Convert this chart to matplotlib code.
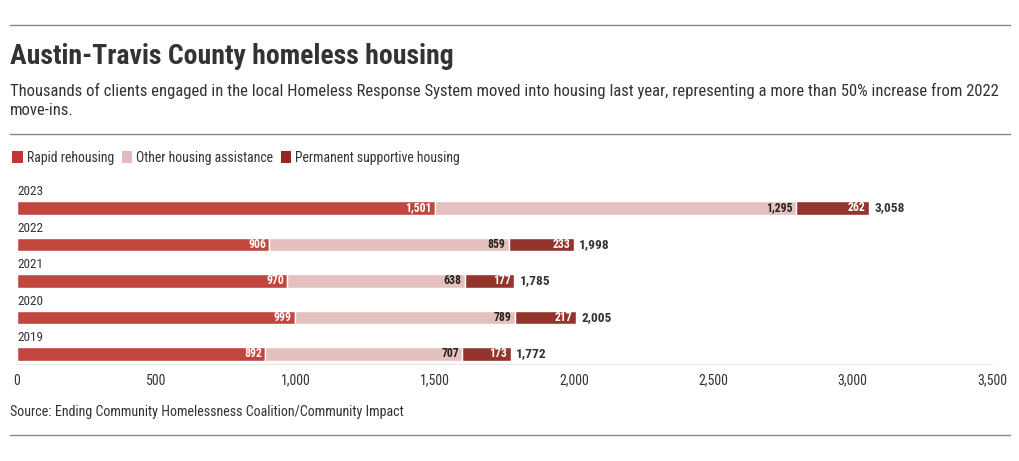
import matplotlib.pyplot as plt
from matplotlib.lines import Line2D
from matplotlib.patches import Patch

plt.rcParams['font.family'] = ['Roboto Condensed', 'Roboto', 'DejaVu Sans']

years = ['2019', '2020', '2021', '2022', '2023']
rapid = [892, 999, 970, 906, 1501]
other = [707, 789, 638, 859, 1295]
permanent = [173, 217, 177, 233, 262]
totals = [1772, 2005, 1785, 1998, 3058]
series_names = ['Rapid rehousing', 'Other housing assistance', 'Permanent supportive housing']
colors = ['#c1463e', '#e4c0be', '#94352d']
legend_colors = ['#c33634', '#e2bcbb', '#8f2b24']
label_colors = ['white', '#222222', 'white']
xticks = [0, 500, 1000, 1500, 2000, 2500, 3000, 3500]

W, H = 1020, 461
fig = plt.figure(figsize=(W / 100, H / 100), dpi=100)
ax = fig.add_axes([17 / W, (H - 364) / H, 975 / W, 179 / H])

pos = list(range(len(years)))
bar_h = 0.38
left = [0] * len(years)
for vals, col, lc in zip([rapid, other, permanent], colors, label_colors):
    ax.barh(pos, vals, left=left, height=bar_h, color=col, edgecolor='white', linewidth=1)
    for p, l, v in zip(pos, left, vals):
        ax.text(l + v - 12, p, f'{v:,}', ha='right', va='center', color=lc,
                fontsize=8.5, fontweight='bold')
    left = [a + b for a, b in zip(left, vals)]

for p, t in zip(pos, totals):
    ax.text(t + 20, p, f'{t:,}', ha='left', va='center', color='#333333',
            fontsize=9.6, fontweight='bold')
    ax.text(0, p + bar_h / 2 + 0.08, years[p], ha='left', va='bottom', color='#333333', fontsize=9.5)

ax.set_xlim(0, 3500)
ax.set_ylim(-0.274, 4.63)
ax.set_xticks(xticks)
ax.set_xticklabels([f'{x:,}' for x in xticks])
ax.set_yticks([])
for s in ['top', 'right', 'left']:
    ax.spines[s].set_visible(False)
ax.spines['bottom'].set_color('#e6e6e6')
ax.tick_params(axis='x', length=0, labelsize=10, colors='#333333', pad=7)

# header and footer
for y in [25, 134, 435]:
    fig.add_artist(Line2D([10 / W, 1010 / W], [1 - y / H, 1 - y / H], color='#888888', lw=1))

fig.text(10 / W, 1 - 57 / H, 'Austin-Travis County homeless housing', fontsize=20,
         fontweight='bold', color='#333333', va='center')
fig.text(10 / W, 1 - 83 / H,
         'Thousands of clients engaged in the local Homeless Response System moved into housing last year, '
         'representing a more than 50% increase from 2022\nmove-ins.',
         fontsize=12, color='#333333', va='top', linespacing=1.35)
fig.text(10 / W, 1 - 412 / H, 'Source: Ending Community Homelessness Coalition/Community Impact',
         fontsize=10.1, color='#333333', va='center')

handles = [Patch(facecolor=c, edgecolor='none') for c in legend_colors]
fig.legend(handles, series_names, loc='center left', bbox_to_anchor=(0 / W, 1 - 158 / H),
           ncol=3, frameon=False, handlelength=0.75, handleheight=1.0, handletextpad=0.3,
           columnspacing=0.55, fontsize=9.9, labelcolor='#333333')

fig.savefig('out.png', dpi=100)
